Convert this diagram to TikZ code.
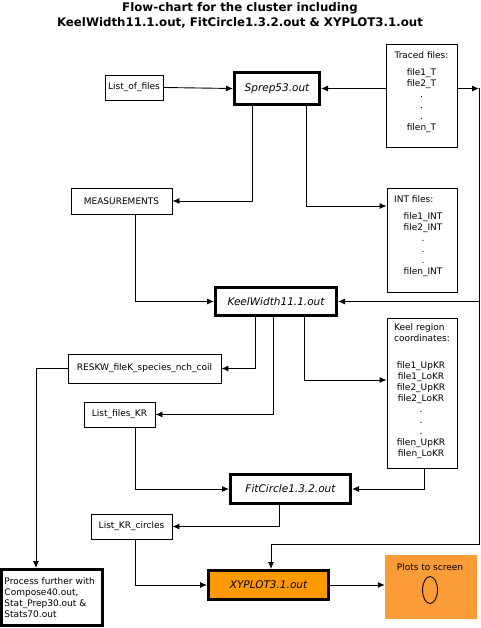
\documentclass[tikz,border=0pt]{standalone}
\usepackage{fontspec}
\setmainfont{DejaVu Sans}
\usetikzlibrary{arrows.meta}
\definecolor{xyfill}{RGB}{255,153,0}
\definecolor{plotfill}{RGB}{252,156,54}
\definecolor{dotc}{RGB}{190,170,170}
\begin{document}
\begin{tikzpicture}[x=1pt,y=-1pt,
  box/.style={draw,line width=0.9pt,inner sep=0pt,font=\fontsize{9}{10.8}\selectfont},
  prog/.style={draw,line width=3pt,inner sep=0pt,font=\fontsize{10.5}{12}\selectfont\itshape},
  txt/.style={inner sep=0pt,font=\fontsize{9}{11}\selectfont},
  conn/.style={line width=0.9pt},
  arr/.style={conn,-{Latex[length=7pt,width=6pt]}}]
\useasboundingbox (0,0) rectangle (481,628);
% title
\node[font=\fontsize{11.8}{15}\selectfont\bfseries,align=center] (title) at (240,15.5)
  {Flow-chart for the cluster including\\KeelWidth11.1.out, FitCircle1.3.2.out \& XYPLOT3.1.out};
% boxes
\node[box,minimum width=58pt,minimum height=25pt] (listfiles) at (134,87.5) {List\_of\_files};
\node[prog,minimum width=85pt,minimum height=32pt] (sprep) at (277,88.5) {Sprep53.out};
\node[box,minimum width=71pt,minimum height=103pt] (traced) at (421.5,95.5) {};
\node[txt] (tracedhd) at (421.5,55) {Traced files:};
\node[txt,align=center,anchor=north] (tracedlist) at (421.5,68.5) {file1\_T\\file2\_T\\.\\.\\.\\filen\_T};
\node[box,minimum width=101pt,minimum height=26pt] (meas) at (121.5,201) {MEASUREMENTS};
\node[box,minimum width=70pt,minimum height=104pt] (int) at (422,240) {};
\node[txt,anchor=west] (inthd) at (394,199) {INT files:};
\node[txt,align=center,anchor=north] (intlist) at (423,212.5) {file1\_INT\\file2\_INT\\.\\.\\.\\filen\_INT};
\node[prog,minimum width=121pt,minimum height=28pt] (keel) at (276,301.5) {KeelWidth11.1.out};
\node[box,minimum width=153pt,minimum height=29pt] (reskw) at (144.5,368.5) {RESKW\_fileK\_species\_nch\_coil};
\node[box,minimum width=71pt,minimum height=25pt] (lfkr) at (119.5,414.5) {List\_files\_KR};
\node[box,minimum width=70pt,minimum height=150pt] (keelreg) at (422,393) {};
\node[txt,align=left,anchor=north west] (keelreghd) at (394,323.5) {Keel region\\coordinates:};
\node[txt,align=center,anchor=north] (keelreglist) at (421,361.5) {file1\_UpKR\\file1\_LoKR\\file2\_UpKR\\file2\_LoKR\\.\\.\\.\\filen\_UpKR\\filen\_LoKR};
\node[prog,minimum width=120pt,minimum height=29pt] (fit) at (290.5,489) {FitCircle1.3.2.out};
\node[box,minimum width=81pt,minimum height=25pt] (lkrc) at (131.5,526.5) {List\_KR\_circles};
\node[prog,fill=xyfill,minimum width=120pt,minimum height=29pt] (xy) at (268.5,585) {XYPLOT3.1.out};
\node[fill=plotfill,inner sep=0pt,minimum width=92pt,minimum height=64pt] (plots) at (431,587) {};
\foreach \px/\py in {392/572,400/578,410/574,446/571,458/576,470/572,394/588,404/596,416/592,448/586,462/592,472/597,390/604,400/612,412/606,422/613,440/607,452/614,466/608,474/615,436/598,426/578,460/602,396/582}
  \fill[dotc] (\px,\py) circle (0.6pt);
\node[txt] (plotstxt) at (430,567) {Plots to screen};
\draw[line width=0.9pt] (430,590) ellipse (7.5pt and 13.5pt);
\node[prog,font=\fontsize{9}{11}\selectfont,align=left,text width=95pt,inner xsep=3pt,minimum width=101pt,minimum height=56pt] (proc) at (52,597.5)
  {Process further with\\Compose40.out,\\Stat\_Prep30.out \&\\Stats70.out};
% right trunk
\coordinate (rtop) at (479,88.5);
\coordinate (rbot) at (479,544);
\coordinate (xyin) at (271,544);
% connectors
\draw[arr] (listfiles.east) -- (sprep.west);
\draw[arr] (traced.west |- sprep.east) -- (sprep.east);
\draw[arr] (traced.east |- rtop) -- (rtop);
\draw[conn] (rtop) -- (rbot) -- (xyin);
\draw[arr] (xyin) -- (xyin |- xy.north);
\draw[arr] (rtop |- keel.east) -- (keel.east);
\draw[arr] ([xshift=-25pt]sprep.south) |- (meas.east);
\draw[arr] ([xshift=29pt]sprep.south) |- ([yshift=34pt]int.west);
\draw[arr] ([xshift=13.5pt]meas.south) |- (keel.west);
\draw[arr] ([xshift=-21pt]keel.south) |- (reskw.east);
\draw[arr] ([xshift=-3pt]keel.south) |- (lfkr.east);
\draw[arr] ([xshift=28pt]keel.south) |- ([yshift=13pt]keelreg.west);
\draw[arr] (reskw.west) -| ([xshift=-16pt]proc.north);
\draw[arr] ([xshift=15.5pt]lfkr.south) |- (fit.west);
\draw[arr] ([xshift=2pt]keelreg.south) |- (fit.east);
\draw[arr] ([xshift=-11.5pt]fit.south) |- (lkrc.east);
\draw[arr] ([xshift=3.5pt]lkrc.south) |- (xy.west);
\draw[arr] (xy.east) -- (plots.west |- xy.east);
\end{tikzpicture}
\end{document}
